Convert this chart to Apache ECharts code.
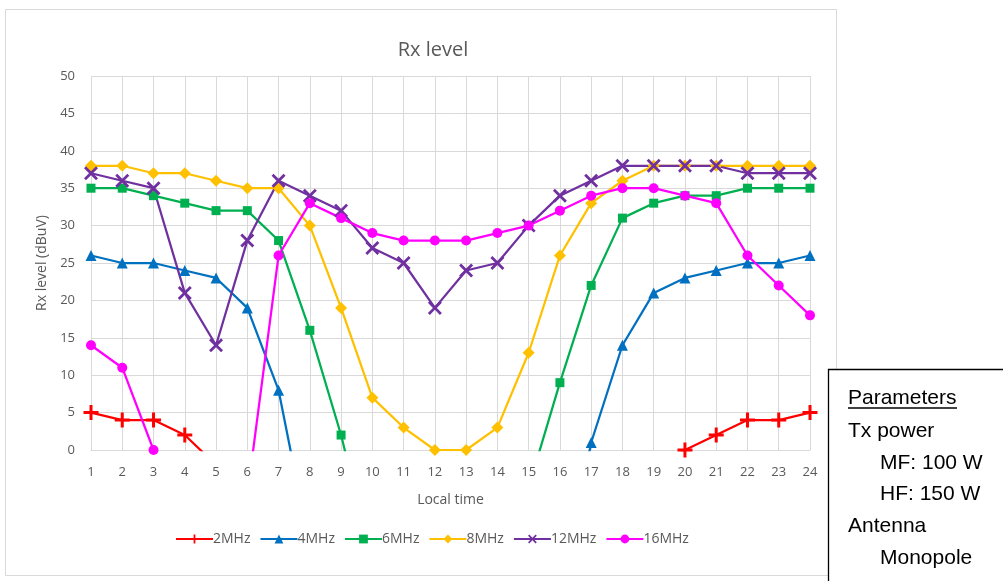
<!DOCTYPE html>
<html><head><meta charset="utf-8">
<script src="https://cdn.jsdelivr.net/npm/echarts@6/dist/echarts.min.js"></script>
<style>html,body{margin:0;padding:0;background:#fff}#c{width:1003px;height:581px}</style>
</head><body><div id="c"></div>
<script>
const hours = ['1','2','3','4','5','6','7','8','9','10','11','12','13','14','15','16','17','18','19','20','21','22','23','24'];
const yTicks = [0,5,10,15,20,25,30,35,40,45,50];
const s2MHz  = [5,4,4,2,-2,-5,-6,-7,-8,-8,-8,-8,-8,-8,-8,-7,-6,-5,-3,0,2,4,4,5];
const s4MHz  = [26,25,25,24,23,19,8,-13,-20,-25,-25,-25,-25,-25,-25,-20,1,14,21,23,24,25,25,26];
const s6MHz  = [35,35,34,33,32,32,28,16,2,-15,-20,-20,-20,-20,-5,9,22,31,33,34,34,35,35,35];
const s8MHz  = [38,38,37,37,36,35,35,30,19,7,3,0,0,3,13,26,33,36,38,38,38,38,38,38];
const s12MHz = [37,36,35,21,14,28,36,34,32,27,25,19,24,25,30,34,36,38,38,38,38,37,37,37];
const s16MHz = [14,11,0,-10,-10,-6,26,33,31,29,28,28,28,29,30,32,34,35,35,34,33,26,22,18];
const seriesNames = ['2MHz','4MHz','6MHz','8MHz','12MHz','16MHz'];
const paramLines = ['Parameters','Tx power','MF: 100 W','HF: 150 W','Antenna','Monopole'];

const plusPath = 'path://M4,0h2v4h4v2h-4v4h-2v-4h-4v-2h4z';
const xPath = 'path://M1.4,0L5,3.6L8.6,0L10,1.4L6.4,5L10,8.6L8.6,10L5,6.4L1.4,10L0,8.6L3.6,5L0,1.4z';

const defs = [
  {name: seriesNames[0], data: s2MHz, color:'#FF0000', symbol: plusPath, size: 15},
  {name: seriesNames[1], data: s4MHz, color:'#0070C0', symbol: 'triangle', size: 11},
  {name: seriesNames[2], data: s6MHz, color:'#00B050', symbol: 'rect', size: 9},
  {name: seriesNames[3], data: s8MHz, color:'#FFC000', symbol: 'diamond', size: 12},
  {name: seriesNames[4], data: s12MHz, color:'#7030A0', symbol: xPath, size: 14},
  {name: seriesNames[5], data: s16MHz, color:'#FF00FF', symbol: 'circle', size: 10}
];

const chart = echarts.init(document.getElementById('c'));
const font = 'Open Sans, Noto Sans, sans-serif';
const lx = 848, ix = 880;
const pY = [398,431,463,494,526,558];
const pX = [lx,lx,ix,ix,lx,ix];
const graphics = [
  {type:'rect', shape:{x:5.5,y:9.5,width:831,height:566}, style:{fill:'none', stroke:'#d9d9d9', lineWidth:1}, z:-1},
  {type:'rect', shape:{x:828.5,y:369.5,width:200,height:240}, style:{fill:'#fff', stroke:'#000', lineWidth:1.3}, z:10},
  {type:'line', shape:{x1:848,y1:408,x2:957,y2:408}, style:{stroke:'#000', lineWidth:1.3}, z:11}
];
paramLines.forEach((t,i)=>{
  graphics.push({type:'text', x:pX[i], y:pY[i], z:11,
    style:{text:t, font:'21px "Liberation Sans", Arial, sans-serif', fill:'#000', textVerticalAlign:'middle', verticalAlign:'middle'}});
});

chart.setOption({
  animation:false,
  title:{text:'Rx level', left:428, top:35, textAlign:'center',
    textStyle:{fontFamily:font, fontSize:20, fontWeight:'normal', color:'#595959'}},
  grid:{left:91, right:193, top:76, bottom:131},
  legend:{bottom:30, left:170, itemWidth:37, itemHeight:11, itemGap:9,
    textStyle:{fontFamily:font, fontSize:14, color:'#595959', padding:[0,0,0,-5]},
    data: seriesNames},
  xAxis:{type:'category', data:hours, boundaryGap:false,
    name:'Local time', nameLocation:'middle', nameGap:43,
    nameTextStyle:{fontFamily:font, fontSize:14, color:'#595959'},
    axisLine:{lineStyle:{color:'#d9d9d9', width:1}}, axisTick:{show:false},
    axisLabel:{fontFamily:font, fontSize:13, color:'#595959', margin:16},
    splitLine:{show:true, lineStyle:{color:'#d9d9d9', width:1}}},
  yAxis:{type:'value', min:0, max:50, interval:5,
    name:'Rx level (dBuV)', nameLocation:'middle', nameGap:40,
    nameTextStyle:{fontFamily:font, fontSize:14, color:'#595959'},
    axisLine:{show:false}, axisTick:{show:false},
    axisLabel:{fontFamily:font, fontSize:13, color:'#595959', margin:16,
      formatter:v=> yTicks.includes(v) ? String(v) : ''},
    splitLine:{lineStyle:{color:'#d9d9d9', width:1}}},
  series: defs.map(d=>({
    type:'line', name:d.name, data:d.data, clip:true,
    symbol:d.symbol, symbolSize:d.size, showAllSymbol:true,
    itemStyle:{color:d.color, borderWidth:0},
    lineStyle:{color:d.color, width:2.25}
  })),
  graphic: graphics
});
</script></body></html>
